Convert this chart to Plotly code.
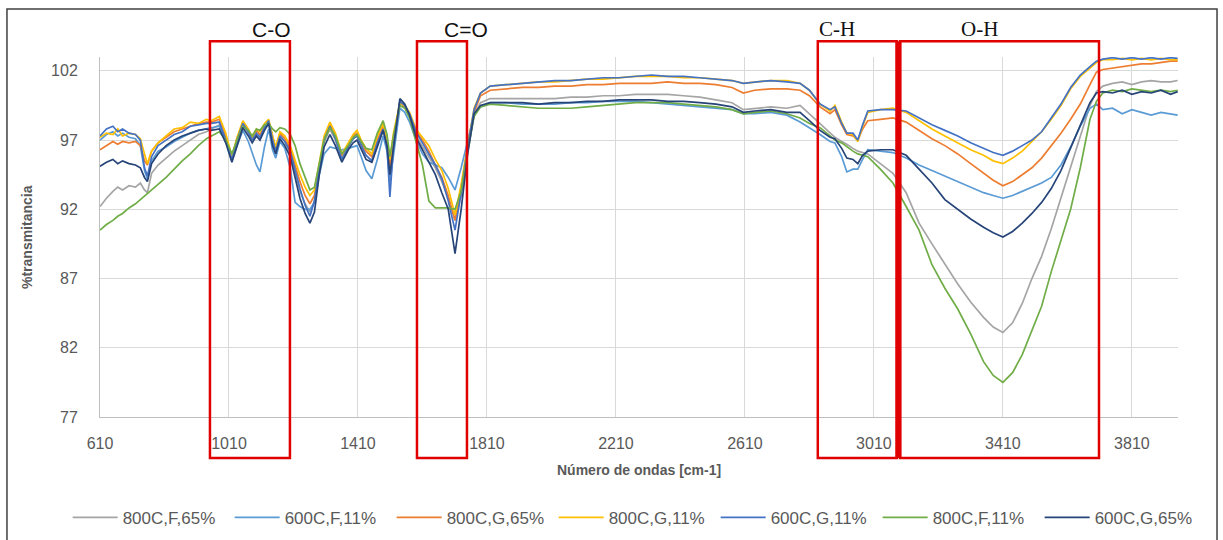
import plotly.graph_objects as go

# Wavenumber grid (cm-1) shared by all spectra
wavenumber = [610, 630, 650, 665, 680, 700, 720, 735, 748, 757,
              770, 790, 815, 840, 865, 890, 915, 940, 955, 980,
              1000, 1019, 1035, 1053, 1070, 1082, 1095, 1106, 1120, 1133,
              1145, 1155, 1168, 1183, 1200, 1215, 1230, 1246, 1261, 1275,
              1290, 1305, 1323, 1340, 1360, 1380, 1395, 1407, 1420, 1435,
              1453, 1470, 1488, 1500, 1509, 1520, 1540, 1555, 1570, 1590,
              1610, 1630, 1650, 1670, 1690, 1711, 1730, 1750, 1770, 1790,
              1820, 1870, 1920, 1970, 2020, 2070, 2120, 2170, 2220, 2270,
              2320, 2370, 2420, 2470, 2520, 2570, 2605, 2640, 2690, 2740,
              2781, 2810, 2843, 2874, 2889, 2910, 2926, 2945, 2960, 2975,
              2991, 3030, 3069, 3110, 3150, 3190, 3230, 3270, 3310, 3350,
              3380, 3410, 3440, 3470, 3500, 3530, 3560, 3590, 3620, 3650,
              3680, 3700, 3720, 3750, 3780, 3810, 3840, 3870, 3900, 3930,
              3952]

t_800C_F_65 = [92.2, 92.8, 93.3, 93.6, 93.4, 93.7, 93.6, 93.9, 93.4, 93.2,
               94.6, 95.2, 95.7, 96.2, 96.6, 97.0, 97.4, 97.6, 97.8, 98.1,
               97.0, 95.6, 96.9, 98.1, 97.5, 97.0, 97.5, 97.2, 97.8, 98.3,
               96.9, 96.2, 97.3, 96.9, 96.0, 94.6, 93.3, 92.4, 91.8, 92.6,
               94.8, 96.8, 97.8, 97.0, 95.7, 96.5, 97.1, 97.3, 96.6, 95.9,
               95.5, 96.7, 97.8, 96.7, 95.0, 96.6, 99.8, 99.5, 98.8, 97.3,
               96.5, 95.8, 95.0, 94.0, 92.8, 91.2, 93.0, 96.0, 98.8, 99.7,
               100.0, 100.0, 100.0, 100.0, 100.0, 100.1, 100.1, 100.2, 100.2, 100.3,
               100.3, 100.3, 100.2, 100.1, 99.9, 99.7, 99.2, 99.3, 99.4, 99.3,
               99.5, 98.9, 98.2, 97.5, 97.2, 96.9, 96.7, 96.4, 96.2, 96.1,
               96.0, 95.3, 94.6, 93.2, 91.0, 89.5, 88.0, 86.6, 85.3, 84.2,
               83.5, 83.1, 83.8, 85.2, 87.0, 88.6, 90.6, 92.8, 95.0, 97.3,
               99.5, 100.5, 100.9, 101.1, 101.2, 101.0, 101.2, 101.3, 101.2, 101.2,
               101.3]

t_600C_F_11 = [97.0, 97.4, 97.6, 97.3, 97.5, 97.2, 97.1, 96.6, 94.8, 94.2,
               95.5, 96.2, 96.5, 96.9, 97.2, 97.5, 97.7, 97.8, 97.9, 98.0,
               96.9, 95.5, 96.6, 97.7, 96.9, 96.0, 95.2, 94.7, 96.5, 97.8,
               96.3, 95.7, 96.9, 96.4, 95.0, 92.5, 92.2, 92.0, 92.0, 92.5,
               94.5, 96.0, 96.5, 96.4, 96.3, 96.4, 96.5, 96.6, 95.8, 94.8,
               94.2, 95.6, 97.3, 96.2, 94.0, 96.0, 99.3, 99.0, 98.3, 97.0,
               96.0, 95.4, 95.2, 95.0, 94.3, 93.4, 95.0, 97.0, 98.8, 99.4,
               99.7, 99.7, 99.6, 99.6, 99.6, 99.7, 99.7, 99.8, 99.8, 99.8,
               99.7, 99.6, 99.5, 99.4, 99.3, 99.2, 98.9, 98.9, 99.0, 98.8,
               98.3, 97.9, 97.4, 96.9, 96.8, 95.8, 94.7, 94.9, 94.9, 95.6,
               96.3, 96.2, 96.1, 95.7, 95.2, 94.8, 94.4, 94.0, 93.6, 93.2,
               93.0, 92.8, 93.0, 93.3, 93.6, 93.9, 94.3, 95.2, 96.5, 98.0,
               99.3, 99.6, 99.2, 99.3, 98.9, 99.2, 99.0, 98.8, 99.0, 98.9,
               98.8]

t_800C_G_65 = [96.3, 96.6, 96.9, 96.7, 96.9, 96.8, 96.9, 96.6, 95.5, 95.2,
               96.2, 96.8, 97.2, 97.6, 97.8, 98.0, 98.2, 98.3, 98.3, 98.5,
               97.3, 95.8, 97.1, 98.2, 97.7, 97.1, 97.7, 97.4, 98.0, 98.4,
               97.2, 96.4, 97.5, 97.1, 96.4, 95.2, 94.0, 93.0, 92.4, 93.0,
               95.2, 97.1, 98.2, 97.3, 95.9, 96.7, 97.3, 97.5, 96.9, 96.2,
               95.8, 97.0, 98.0, 96.8, 95.2, 97.0, 99.7, 99.4, 98.9, 97.6,
               97.0, 96.2, 95.2, 94.3, 93.0, 91.2, 93.5, 96.6, 99.0, 100.2,
               100.6, 100.7, 100.8, 100.8, 100.9, 100.9, 101.0, 101.0, 101.1, 101.1,
               101.1, 101.2, 101.1, 101.1, 101.0, 100.8, 100.4, 100.6, 100.7, 100.7,
               100.6, 100.2, 99.4, 98.9, 99.2, 98.1, 97.4, 97.3, 97.0, 97.8,
               98.4, 98.5, 98.6, 98.3, 97.7, 97.1, 96.6, 96.0, 95.3, 94.6,
               94.1, 93.7, 94.0, 94.5, 95.0, 95.7, 96.6, 97.5, 98.5, 99.6,
               101.0, 101.9, 102.1, 102.2, 102.3, 102.4, 102.5, 102.5, 102.6, 102.7,
               102.7]

t_800C_G_11 = [97.2, 97.5, 97.4, 97.8, 97.3, 97.5, 97.4, 97.1, 96.0, 95.3,
               96.2, 96.8, 97.3, 97.8, 97.9, 98.3, 98.2, 98.5, 98.4, 98.7,
               97.5, 95.8, 97.2, 98.4, 97.8, 97.2, 97.8, 97.6, 98.2, 98.5,
               97.3, 96.5, 97.6, 97.3, 96.6, 95.5, 94.5, 93.6, 93.0, 93.4,
               95.5, 97.3, 98.3, 97.5, 96.0, 96.8, 97.4, 97.7, 97.0, 96.4,
               96.0, 97.3, 98.2, 97.0, 95.6, 97.5, 99.7, 99.5, 99.0, 97.8,
               97.2, 96.6, 95.6, 94.8, 93.5, 91.6, 93.8, 96.7, 99.3, 100.4,
               100.9, 101.0, 101.1, 101.2, 101.2, 101.3, 101.4, 101.4, 101.5, 101.6,
               101.6, 101.6, 101.5, 101.5, 101.4, 101.3, 101.1, 101.2, 101.3, 101.3,
               101.1, 100.6, 99.6, 99.1, 99.5, 98.3, 97.5, 97.4, 96.9, 98.0,
               99.0, 99.2, 99.3, 99.0, 98.4, 97.8, 97.3, 96.8, 96.3, 95.9,
               95.5, 95.3, 95.7, 96.2, 96.9, 97.6, 98.5, 99.5, 100.7, 101.6,
               102.2, 102.6, 102.8, 102.8, 102.9, 102.8, 102.9, 102.8, 102.9, 102.8,
               102.8]

t_600C_G_11 = [97.3, 97.8, 98.0, 97.6, 97.8, 97.5, 97.4, 97.0, 95.0, 94.4,
               95.8, 96.6, 97.0, 97.4, 97.6, 98.0, 98.1, 98.2, 98.2, 98.3,
               97.0, 95.6, 97.0, 98.2, 97.6, 97.0, 97.5, 97.2, 97.9, 98.4,
               97.0, 96.2, 97.3, 96.9, 96.2, 94.8, 93.5, 92.3, 91.5, 92.6,
               95.0, 97.0, 98.0, 97.1, 95.6, 96.5, 97.1, 97.3, 96.7, 95.9,
               95.5, 96.8, 97.8, 96.5, 92.9, 96.5, 99.8, 99.5, 98.9, 97.6,
               96.8, 96.0, 95.2, 94.2, 92.6, 90.5, 93.2, 96.5, 99.2, 100.4,
               100.9, 101.0, 101.1, 101.2, 101.3, 101.3, 101.4, 101.5, 101.5, 101.6,
               101.7, 101.6, 101.6, 101.5, 101.4, 101.3, 101.1, 101.2, 101.3, 101.2,
               101.1, 100.6, 99.6, 99.2, 99.4, 98.2, 97.5, 97.5, 97.0, 98.1,
               99.1, 99.2, 99.2, 99.1, 98.6, 98.1, 97.7, 97.3, 96.8, 96.4,
               96.1, 95.9, 96.2, 96.6, 97.0, 97.6, 98.6, 99.6, 100.8, 101.7,
               102.3, 102.7, 102.85, 102.95, 102.85, 102.95, 102.85, 102.95, 102.85, 102.95,
               102.9]

t_800C_F_11 = [90.5, 90.9, 91.2, 91.5, 91.7, 92.1, 92.4, 92.7, 92.9, 93.1,
               93.4, 93.8, 94.3, 94.9, 95.5, 96.0, 96.6, 97.1, 97.3, 97.6,
               97.0, 96.0, 97.0, 98.0, 97.7, 97.3, 97.8, 97.7, 98.1, 98.2,
               97.8, 97.6, 97.9, 97.8, 97.4, 96.6, 95.3, 94.3, 93.4, 93.6,
               95.3, 97.0, 97.9, 97.3, 96.0, 96.6, 97.2, 97.4, 96.9, 96.4,
               96.3, 97.5, 98.4, 97.4, 95.8, 97.3, 99.5, 99.3, 98.6, 96.8,
               95.2, 92.6, 92.1, 92.1, 92.1, 92.0, 93.3, 96.2, 98.7, 99.4,
               99.6, 99.5, 99.4, 99.3, 99.3, 99.3, 99.4, 99.5, 99.6, 99.7,
               99.7, 99.7, 99.6, 99.5, 99.4, 99.2, 98.9, 99.0, 99.1, 98.9,
               98.6, 98.2, 97.9, 97.3, 97.0, 96.8, 96.5, 96.2, 96.0, 95.9,
               95.8, 94.9, 93.9, 92.2, 90.5, 88.0, 86.3, 84.8, 83.0, 81.0,
               80.0, 79.5, 80.2, 81.5, 83.2, 85.0, 87.5, 89.8, 92.0, 95.0,
               98.5, 99.8, 100.4, 100.6, 100.5, 100.7, 100.6, 100.5, 100.6, 100.5,
               100.6]

t_600C_G_65 = [95.1, 95.4, 95.6, 95.3, 95.5, 95.3, 95.2, 95.0, 94.3, 94.0,
               95.3, 96.0, 96.6, 97.0, 97.3, 97.5, 97.7, 97.8, 97.7, 97.8,
               96.8, 95.4, 96.6, 97.9, 97.3, 96.8, 97.3, 97.0, 97.7, 98.2,
               96.6, 96.0, 97.1, 96.6, 95.8, 94.2, 92.8, 91.7, 91.0, 91.8,
               94.5, 96.5, 97.4, 96.6, 95.4, 96.3, 96.8, 97.0, 96.3, 95.6,
               95.4, 96.5, 97.7, 96.6, 94.5, 96.4, 100.0, 99.6, 98.8, 97.2,
               96.3, 95.4, 94.5, 93.2, 92.0, 88.8, 92.0, 96.0, 98.9, 99.5,
               99.7, 99.7, 99.7, 99.6, 99.7, 99.7, 99.8, 99.8, 99.9, 99.9,
               99.9, 99.8, 99.8, 99.7, 99.6, 99.4, 99.0, 99.1, 99.2, 99.0,
               99.0, 98.4, 97.7, 97.2, 97.1, 96.4, 95.7, 95.6, 95.3, 95.9,
               96.2, 96.3, 96.3, 95.9, 94.9, 93.9, 92.7, 92.0, 91.3, 90.7,
               90.3, 90.0, 90.4, 91.0, 91.7, 92.5, 93.5, 94.8, 96.4, 98.0,
               99.7, 100.4, 100.5, 100.4, 100.6, 100.3, 100.5, 100.4, 100.6, 100.3,
               100.5]

series_names = ["800C,F,65%", "600C,F,11%", "800C,G,65%", "800C,G,11%",
                "600C,G,11%", "800C,F,11%", "600C,G,65%"]
series_values = [t_800C_F_65, t_600C_F_11, t_800C_G_65, t_800C_G_11,
                 t_600C_G_11, t_800C_F_11, t_600C_G_65]
series_colors = ["#A5A5A5", "#5B9BD5", "#ED7D31", "#FFC000",
                 "#4472C4", "#70AD47", "#264478"]

x_ticks = [610, 1010, 1410, 1810, 2210, 2610, 3010, 3410, 3810]
y_ticks = [77, 82, 87, 92, 97, 102]
X_MIN, X_MAX = 610, 3953
Y_MIN, Y_MAX = 77, 103

# Functional-group bands (cm-1) highlighted with red frames
bands = [("C-O", 951, 1199, "Liberation Sans"),
         ("C=O", 1593, 1748, "Liberation Sans"),
         ("C-H", 2836, 3081, "Liberation Serif"),
         ("O-H", 3091, 3708, "Liberation Serif")]

fig = go.Figure()
for name, vals, col in zip(series_names, series_values, series_colors):
    fig.add_trace(go.Scatter(x=wavenumber, y=vals, mode="lines", name=name,
                             line=dict(color=col, width=1.7)))


def to_paper(wn):
    return (wn - X_MIN) / (X_MAX - X_MIN)


shapes = []
annotations = []
box_top, box_bottom = 1.044, -0.114
for label, lo, hi, fam in bands:
    shapes.append(dict(type="rect", xref="paper", yref="paper",
                       x0=to_paper(lo), x1=to_paper(hi), y0=box_bottom, y1=box_top,
                       line=dict(color="#E00000", width=2.5), layer="above"))
    annotations.append(dict(text=label, xref="paper", yref="paper",
                            x=to_paper((lo + hi) / 2), y=box_top - 0.004,
                            yanchor="bottom", showarrow=False,
                            font=dict(family=fam, size=21, color="#111111")))
# heavy separator between the C-H and O-H bands
shapes.append(dict(type="line", xref="paper", yref="paper",
                   x0=to_paper(3086), x1=to_paper(3086), y0=box_bottom, y1=box_top,
                   line=dict(color="#E00000", width=6), layer="above"))
# outer frame of the figure
shapes.append(dict(type="rect", xref="paper", yref="paper",
                   x0=-0.0863, x1=1.0362, y0=-0.40, y1=1.1333,
                   line=dict(color="#404040", width=1.5), layer="above"))

annotations.append(dict(text="<b>Número de ondas [cm-1]</b>", xref="paper", yref="paper",
                        x=0.5, y=-0.147, xanchor="center", yanchor="middle",
                        showarrow=False,
                        font=dict(family="Liberation Sans", size=14, color="#595959")))
annotations.append(dict(text="<b>%transmitancia</b>", xref="paper", yref="paper",
                        x=-0.0677, y=0.5, xanchor="center", yanchor="middle",
                        textangle=-90, showarrow=False,
                        font=dict(family="Liberation Sans", size=14, color="#595959")))

fig.update_layout(
    width=1223, height=540,
    margin=dict(l=100, r=45, t=57, b=123, autoexpand=False),
    paper_bgcolor="white", plot_bgcolor="white",
    shapes=shapes, annotations=annotations,
    font=dict(family="Liberation Sans", color="#595959"),
    showlegend=True,
    legend=dict(orientation="h", x=-0.03, xanchor="left", y=-0.28, yanchor="middle",
                font=dict(family="Liberation Sans", size=17, color="#595959"),
                itemwidth=45, entrywidth=102,
                bgcolor="rgba(0,0,0,0)"),
    xaxis=dict(range=[X_MIN, X_MAX], tickmode="array", tickvals=x_ticks,
               showgrid=True, gridcolor="#D9D9D9", gridwidth=1,
               showline=True, linecolor="#BFBFBF", zeroline=False,
               ticks="", ticklabelstandoff=12,
               tickfont=dict(size=16, color="#595959")),
    yaxis=dict(range=[Y_MIN, Y_MAX], tickmode="array", tickvals=y_ticks,
               showgrid=True, gridcolor="#D9D9D9", gridwidth=1,
               showline=True, linecolor="#BFBFBF", zeroline=False,
               ticks="", ticklabelstandoff=18,
               tickfont=dict(size=16, color="#595959")),
)

fig.write_html("out.html")
